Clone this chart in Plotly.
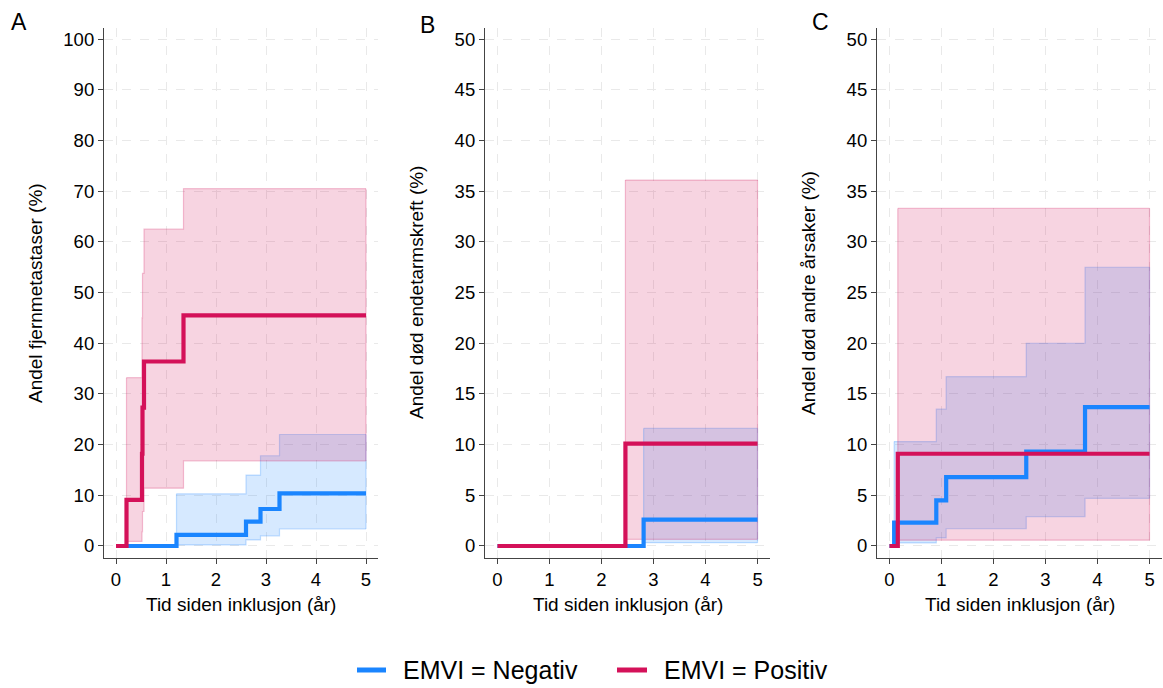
import plotly.graph_objects as go

# ---------------- data ----------------
# Panel A: Andel fjernmetastaser (%)
A_neg_t = [0, 1.21, 2.60, 2.89, 3.27, 5.0]
A_neg_s = [0, 2.2, 4.8, 7.3, 10.4, 10.4]
A_neg_lo = [0, 0.2, 1.2, 2.0, 3.35, 3.35]
A_neg_hi = [0, 10.3, 14.0, 17.8, 22.0, 22.0]

A_pos_t = [0, 0.21, 0.52, 0.53, 0.56, 1.35, 5.0]
A_pos_s = [0, 9.1, 18.2, 27.3, 36.4, 45.5, 45.5]
A_pos_lo = [0, 0.9, 2.8, 6.8, 11.4, 16.8, 16.8]
A_pos_hi = [0, 33.2, 45.0, 53.8, 62.5, 70.5, 70.5]

# Panel B: Andel død endetarmskreft (%)
B_neg_t = [0, 2.81, 5.0]
B_neg_s = [0, 2.6, 2.6]
B_neg_lo = [0, 0.33, 0.33]
B_neg_hi = [0, 11.6, 11.6]

B_pos_t = [0, 2.46, 5.0]
B_pos_s = [0, 10.1, 10.1]
B_pos_lo = [0, 0.66, 0.66]
B_pos_hi = [0, 36.1, 36.1]

# Panel C: Andel død andre årsaker (%)
C_neg_t = [0, 0.09, 0.90, 1.09, 2.63, 3.76, 5.0]
C_neg_s = [0, 2.3, 4.5, 6.8, 9.3, 13.7, 13.7]
C_neg_lo = [0, 0.3, 0.8, 1.7, 2.9, 4.7, 4.7]
C_neg_hi = [0, 10.3, 13.5, 16.7, 20.0, 27.5, 27.5]

C_pos_t = [0, 0.16, 5.0]
C_pos_s = [0, 9.1, 9.1]
C_pos_lo = [0, 0.57, 0.57]
C_pos_hi = [0, 33.3, 33.3]

panel_letters = ["A", "B", "C"]
y_titles = ["Andel fjernmetastaser (%)", "Andel død endetarmskreft (%)", "Andel død andre årsaker (%)"]
x_title = "Tid siden inklusjon (år)"
series_names = ["EMVI = Negativ", "EMVI = Positiv"]
x_ticks = [0, 1, 2, 3, 4, 5]
y_ticks_A = list(range(0, 101, 10))
y_ticks_BC = list(range(0, 51, 5))

# ---------------- styling ----------------
W, H = 1163, 688
FONT = "Liberation Sans, Arial, sans-serif"
BLUE = "#1A85FF"
PINK = "#D41159"
BLUE_FILL = "rgba(26,133,255,0.18)"
PINK_FILL = "rgba(212,17,89,0.18)"
BLUE_EDGE = "rgba(26,133,255,0.25)"
PINK_EDGE = "rgba(212,17,89,0.25)"
AXIS_COL = "#444444"
GRID_COL = "#e9e9e9"
TICK_SIZE = 18.5
TITLE_SIZE = 19

panels = [
    dict(neg=(A_neg_t, A_neg_s, A_neg_lo, A_neg_hi), pos=(A_pos_t, A_pos_s, A_pos_lo, A_pos_hi),
         xdom=(104, 378), yr=(-2.37, 102.2), yt=y_ticks_A),
    dict(neg=(B_neg_t, B_neg_s, B_neg_lo, B_neg_hi), pos=(B_pos_t, B_pos_s, B_pos_lo, B_pos_hi),
         xdom=(485, 770), yr=(-1.185, 51.1), yt=y_ticks_BC),
    dict(neg=(C_neg_t, C_neg_s, C_neg_lo, C_neg_hi), pos=(C_pos_t, C_pos_s, C_pos_lo, C_pos_hi),
         xdom=(877, 1162), yr=(-1.185, 51.1), yt=y_ticks_BC),
]
Y_TOP, Y_BOT = 28, 558

fig = go.Figure()
layout = dict(
    width=W, height=H,
    margin=dict(l=0, r=0, t=0, b=0),
    paper_bgcolor="white", plot_bgcolor="white",
    font=dict(family=FONT, size=TICK_SIZE, color="black"),
    showlegend=False,
)
annotations = []
shapes = []

for i, p in enumerate(panels):
    xa = "x" if i == 0 else f"x{i+1}"
    ya = "y" if i == 0 else f"y{i+1}"
    xkey = "xaxis" if i == 0 else f"xaxis{i+1}"
    ykey = "yaxis" if i == 0 else f"yaxis{i+1}"

    # confidence bands (blue first, then pink)
    for (t, s, lo, hi), fillc, edgec in [(p["neg"], BLUE_FILL, BLUE_EDGE), (p["pos"], PINK_FILL, PINK_EDGE)]:
        fig.add_trace(go.Scatter(x=t[1:], y=lo[1:], mode="lines", line=dict(shape="hv", color=edgec, width=1.2),
                                 xaxis=xa, yaxis=ya, showlegend=False, hoverinfo="skip"))
        fig.add_trace(go.Scatter(x=t[1:], y=hi[1:], mode="lines", line=dict(shape="hv", color=edgec, width=1.2),
                                 fill="tonexty", fillcolor=fillc,
                                 xaxis=xa, yaxis=ya, showlegend=False, hoverinfo="skip"))
    # vertical edges of the bands at start and end
    for (t, s, lo, hi), edgec in [(p["neg"], BLUE_EDGE), (p["pos"], PINK_EDGE)]:
        fig.add_trace(go.Scatter(x=[t[1], t[1], None, t[-1], t[-1]], y=[lo[1], hi[1], None, lo[-1], hi[-1]],
                                 mode="lines", line=dict(color=edgec, width=1.2),
                                 xaxis=xa, yaxis=ya, showlegend=False, hoverinfo="skip"))
    # cumulative incidence lines
    for (t, s, lo, hi), col, name in [(p["neg"], BLUE, series_names[0]), (p["pos"], PINK, series_names[1])]:
        fig.add_trace(go.Scatter(x=t, y=s, mode="lines", line=dict(shape="hv", color=col, width=4.2),
                                 name=name, showlegend=False, xaxis=xa, yaxis=ya))

    x0, x1 = p["xdom"]
    layout[xkey] = dict(
        domain=[x0 / W, x1 / W], anchor=ya, range=[-0.24, 5.24],
        tickmode="array", tickvals=x_ticks, ticks="outside", ticklen=5, tickcolor=AXIS_COL,
        showline=True, linecolor=AXIS_COL, linewidth=1.2, mirror=False,
        showgrid=True, gridcolor=GRID_COL, griddash="dash", gridwidth=1, zeroline=False,
        tickfont=dict(size=TICK_SIZE, family=FONT),
    )
    layout[ykey] = dict(
        domain=[1 - Y_BOT / H, 1 - Y_TOP / H], anchor=xa, range=list(p["yr"]),
        tickmode="array", tickvals=p["yt"], ticks="outside", ticklen=5, tickcolor=AXIS_COL,
        showline=True, linecolor=AXIS_COL, linewidth=1.2, mirror=False,
        showgrid=True, gridcolor=GRID_COL, griddash="dash", gridwidth=1, zeroline=False,
        tickfont=dict(size=TICK_SIZE, family=FONT),
    )

    # axis titles as annotations
    annotations.append(dict(text=x_title, x=(x0 + x1) / 2 / W, y=1 - 604 / H, xref="paper", yref="paper",
                            showarrow=False, font=dict(size=TITLE_SIZE, family=FONT),
                            xanchor="center", yanchor="middle"))
    annotations.append(dict(text=y_titles[i], x=(x0 - 69) / W, y=1 - 293 / H, xref="paper", yref="paper",
                            textangle=-90, showarrow=False, font=dict(size=TITLE_SIZE, family=FONT),
                            xanchor="center", yanchor="middle"))

letter_pos = [(19, 22), (427, 25), (820, 22)]
for L, (lx, ly) in zip(panel_letters, letter_pos):
    annotations.append(dict(text=L, x=lx / W, y=1 - ly / H, xref="paper", yref="paper", showarrow=False,
                            font=dict(size=23, family=FONT), xanchor="center", yanchor="middle"))

# legend (drawn manually to match line-symbol size and spacing)
LEG_Y = 1 - 670 / H
for name, col, (lx0, lx1, tx) in zip(series_names, [BLUE, PINK], [(357, 386, 401), (617, 647, 662)]):
    shapes.append(dict(type="line", xref="paper", yref="paper", x0=lx0 / W, x1=lx1 / W, y0=LEG_Y, y1=LEG_Y,
                       line=dict(color=col, width=5)))
    annotations.append(dict(text=name, x=tx / W, y=LEG_Y, xref="paper", yref="paper", showarrow=False,
                            font=dict(size=25, family=FONT), xanchor="left", yanchor="middle"))

layout["annotations"] = annotations
layout["shapes"] = shapes
fig.update_layout(**layout)
fig.write_html("out.html")
